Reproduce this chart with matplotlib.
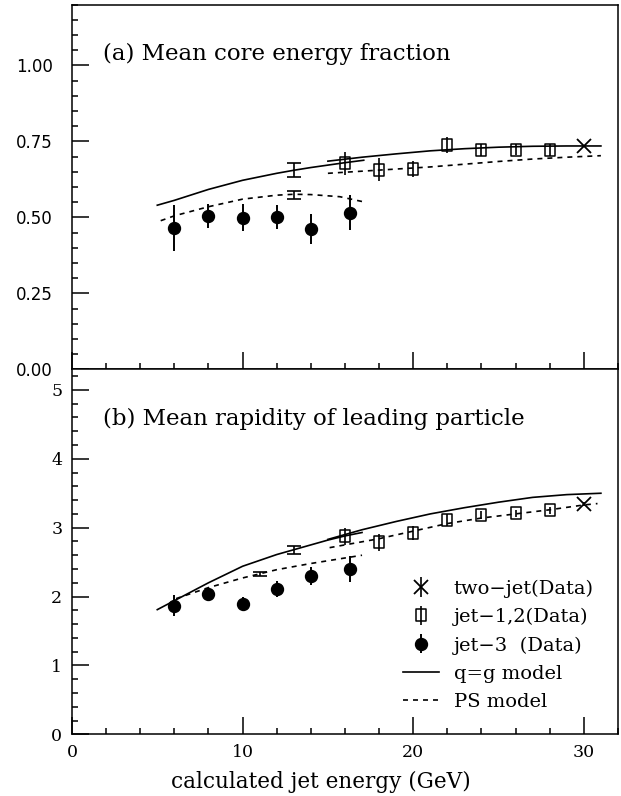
import matplotlib
matplotlib.use("Agg")
import matplotlib.pyplot as plt
from matplotlib.ticker import MultipleLocator, FormatStrFormatter
from matplotlib.path import Path

# ---------------- data ----------------
jet3_x = [6, 8, 10, 12, 14, 16.3]
jet12_x = [16, 18, 20, 22, 24, 26, 28]
twojet_x = [30]

# (a) mean core energy fraction
jet3_core = [0.465, 0.504, 0.499, 0.502, 0.461, 0.515]
jet3_core_err = [0.075, 0.040, 0.045, 0.040, 0.050, 0.058]
jet12_core = [0.678, 0.657, 0.660, 0.738, 0.721, 0.723, 0.721]
jet12_core_err = [0.038, 0.038, 0.027, 0.027, 0.020, 0.018, 0.020]
twojet_core = [0.735]
twojet_core_err = [0.004]
qg_mc_core_x, qg_mc_core, qg_mc_core_err = [13], [0.656], [0.022]
ps_mc_core_x, ps_mc_core, ps_mc_core_err = [13], [0.573], [0.013]

qg3_core_x = [5.0, 6, 8, 10, 12, 13, 14, 16, 17.1]
qg3_core_y = [0.540, 0.556, 0.592, 0.622, 0.645, 0.655, 0.664, 0.680, 0.688]
ps3_core_x = [5.2, 6, 8, 10, 12, 13, 14, 15.7, 17.1]
ps3_core_y = [0.489, 0.505, 0.535, 0.560, 0.573, 0.576, 0.575, 0.568, 0.551]
qg12_core_x = [15, 17, 19, 21, 23, 25, 27, 29, 31]
qg12_core_y = [0.685, 0.698, 0.709, 0.719, 0.726, 0.731, 0.734, 0.735, 0.735]
ps12_core_x = [15, 17, 19, 21, 23, 25, 27, 29, 31]
ps12_core_y = [0.645, 0.652, 0.659, 0.666, 0.675, 0.684, 0.692, 0.698, 0.703]

# (b) mean rapidity of leading particle
jet3_rap = [1.868, 2.03, 1.89, 2.11, 2.30, 2.395]
jet3_rap_err = [0.15, 0.08, 0.10, 0.11, 0.13, 0.19]
jet12_rap = [2.874, 2.787, 2.927, 3.11, 3.18, 3.21, 3.255]
jet12_rap_err = [0.12, 0.12, 0.10, 0.085, 0.06, 0.05, 0.05]
twojet_rap = [3.343]
twojet_rap_err = [0.03]
qg_mc_rap_x, qg_mc_rap, qg_mc_rap_err = [13], [2.68], [0.06]
ps_mc_rap_x, ps_mc_rap, ps_mc_rap_err = [11], [2.33], [0.03]

qg3_rap_x = [5, 6, 8, 10, 12, 13, 14, 15, 16, 17]
qg3_rap_y = [1.81, 1.94, 2.20, 2.44, 2.61, 2.68, 2.75, 2.82, 2.88, 2.93]
ps3_rap_x = [6.1, 8, 10, 11, 12, 14, 16, 17]
ps3_rap_y = [1.97, 2.13, 2.27, 2.33, 2.39, 2.48, 2.56, 2.60]
qg12_rap_x = [15, 17, 19, 21, 23, 25, 27, 29, 31]
qg12_rap_y = [2.83, 2.97, 3.09, 3.20, 3.29, 3.37, 3.44, 3.48, 3.50]
ps12_rap_x = [15.1, 18, 20, 22, 24, 26, 28, 30, 30.8]
ps12_rap_y = [2.71, 2.84, 2.95, 3.06, 3.14, 3.20, 3.26, 3.33, 3.35]

labels = ["two\u2212jet(Data)", "jet\u22121,2(Data)", "jet\u22123  (Data)",
          "q=g model", "PS model"]

# ---------------- style ----------------
SERIF = "DejaVu Serif"
plt.rcParams["font.family"] = SERIF
plt.rcParams["axes.linewidth"] = 1.1

rect = Path([(-0.42, -0.5), (0.42, -0.5), (0.42, 0.5), (-0.42, 0.5), (-0.42, -0.5)],
            [Path.MOVETO, Path.LINETO, Path.LINETO, Path.LINETO, Path.CLOSEPOLY])

fig = plt.figure(figsize=(6.21, 7.96), dpi=100)
ax1 = fig.add_axes([0.1159, 0.5361, 0.8792, 0.4580])
ax2 = fig.add_axes([0.1159, 0.0775, 0.8792, 0.4586])

LW = 1.2
DASH = (0, (3.0, 3.0))


def draw(ax, j3, j3e, j12, j12e, tj, tje, qgm, psm, curves):
    h3 = ax.errorbar(jet3_x, j3, yerr=j3e, fmt="o", color="black", ms=8.6,
                     elinewidth=1.4, capsize=0, zorder=4)
    h12 = ax.errorbar(jet12_x, j12, yerr=j12e, marker=rect, linestyle="none",
                      ms=8.2, mfc="none", mec="black", mew=1.1,
                      ecolor="black", elinewidth=1.2, capsize=0, zorder=4)
    htj = ax.errorbar(twojet_x, tj, yerr=tje, fmt="x", color="black", ms=10,
                      mew=1.3, elinewidth=1.2, capsize=0, zorder=4)
    for (x, y, e) in (qgm, psm):
        ax.errorbar(x, y, yerr=e, fmt="none", ecolor="black", elinewidth=1.2,
                    capsize=5, capthick=1.2, zorder=4)
    (qx3, qy3), (px3, py3), (qx12, qy12), (px12, py12) = curves
    hq, = ax.plot(qx3, qy3, color="black", lw=LW, zorder=2)
    ax.plot(qx12, qy12, color="black", lw=LW, zorder=2)
    hp, = ax.plot(px3, py3, color="black", lw=LW, linestyle=DASH, zorder=2)
    ax.plot(px12, py12, color="black", lw=LW, linestyle=DASH, zorder=2)
    return htj, h12, h3, hq, hp


draw(ax1, jet3_core, jet3_core_err, jet12_core, jet12_core_err, twojet_core,
     twojet_core_err, (qg_mc_core_x, qg_mc_core, qg_mc_core_err),
     (ps_mc_core_x, ps_mc_core, ps_mc_core_err),
     ((qg3_core_x, qg3_core_y), (ps3_core_x, ps3_core_y),
      (qg12_core_x, qg12_core_y), (ps12_core_x, ps12_core_y)))
handles = draw(ax2, jet3_rap, jet3_rap_err, jet12_rap, jet12_rap_err,
               twojet_rap, twojet_rap_err,
               (qg_mc_rap_x, qg_mc_rap, qg_mc_rap_err),
               (ps_mc_rap_x, ps_mc_rap, ps_mc_rap_err),
               ((qg3_rap_x, qg3_rap_y), (ps3_rap_x, ps3_rap_y),
                (qg12_rap_x, qg12_rap_y), (ps12_rap_x, ps12_rap_y)))

# axes limits & ticks
for ax in (ax1, ax2):
    ax.set_xlim(0, 32)
    ax.xaxis.set_major_locator(MultipleLocator(10))
    ax.xaxis.set_minor_locator(MultipleLocator(2))
    ax.tick_params(which="both", direction="in", top=False, right=False,
                   width=1.1)
    ax.tick_params(which="major", length=12.5)
    ax.tick_params(which="minor", length=4.5)

ax1.set_ylim(0, 1.2)
ax1.yaxis.set_major_locator(MultipleLocator(0.25))
ax1.yaxis.set_minor_locator(MultipleLocator(0.05))
ax1.yaxis.set_major_formatter(FormatStrFormatter("%.2f"))
ax1.tick_params(axis="x", labelbottom=False)
ax1.tick_params(axis="y", pad=14)
for t in ax1.get_yticklabels():
    t.set_fontfamily("DejaVu Sans")
    t.set_fontsize(12)

ax2.set_ylim(0, 5.3)
ax2.yaxis.set_major_locator(MultipleLocator(1))
ax2.yaxis.set_minor_locator(MultipleLocator(0.2))
ax2.tick_params(axis="y", pad=7, labelsize=12.5)
ax2.tick_params(axis="x", pad=7, labelsize=12.5)

ax2.set_xlabel("calculated jet energy (GeV)", fontsize=15.5)
ax2.xaxis.set_label_coords(0.456, -0.100)

ax1.text(1.79, 1.017, "(a) Mean core energy fraction", fontsize=16.5,
         va="baseline", ha="left")
ax2.text(1.79, 4.49, "(b) Mean rapidity of leading particle", fontsize=16.5,
         va="baseline", ha="left")

ax2.legend(list(handles), labels, loc="upper left",
           bbox_to_anchor=(0.606, 0.424), frameon=False, fontsize=14,
           borderpad=0, borderaxespad=0, handlelength=1.85,
           handletextpad=0.77, labelspacing=0.52)

fig.savefig("out.png", dpi=100)
